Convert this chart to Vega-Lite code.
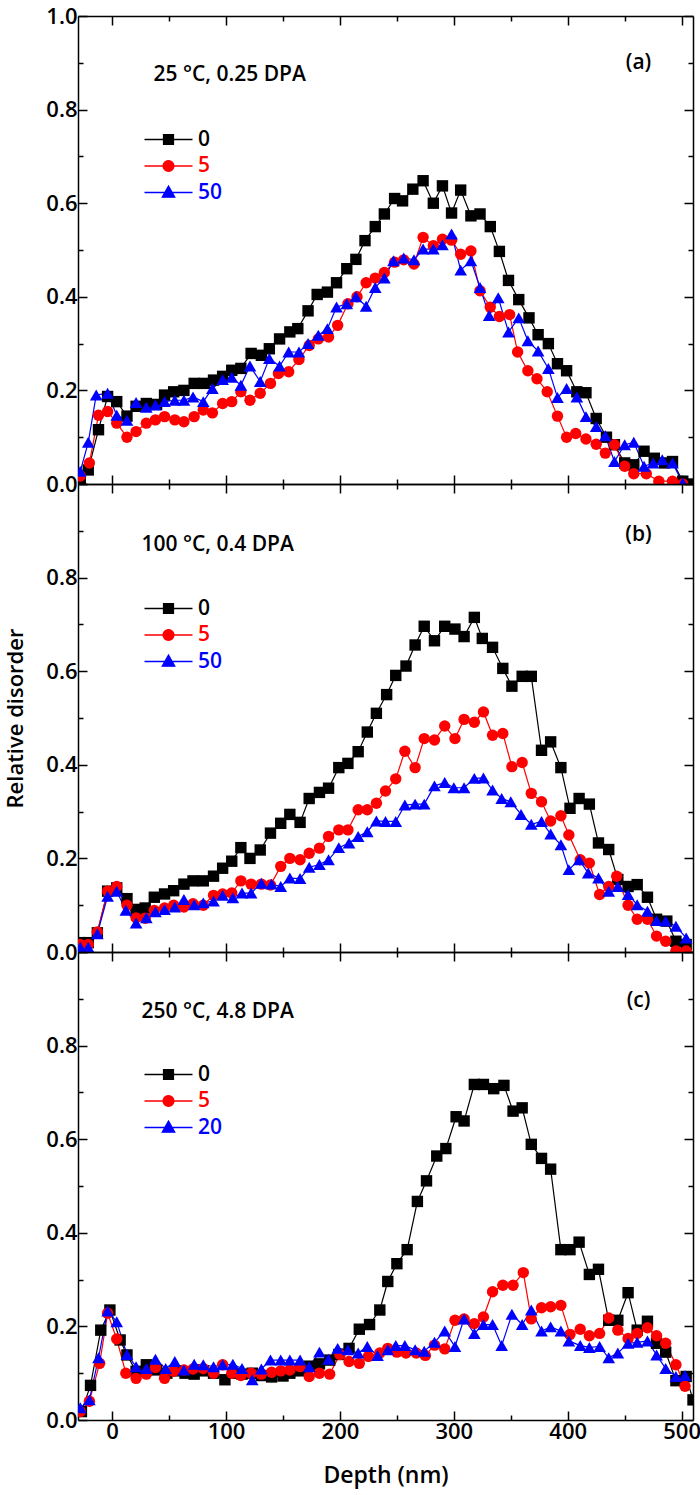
{
"$schema": "https://vega.github.io/schema/vega-lite/v6.json",
"padding": {"left": 4, "top": 5, "right": 5, "bottom": 5},
"background": "white",
"datasets": {
"a": [
{"depth":-28,"disorder":0.01,"fluence":"0"},{"depth":-21,"disorder":0.03,"fluence":"0"},{"depth":-12,"disorder":0.116,"fluence":"0"},{"depth":-4,"disorder":0.187,"fluence":"0"},{"depth":4,"disorder":0.176,"fluence":"0"},{"depth":13,"disorder":0.145,"fluence":"0"},{"depth":21,"disorder":0.166,"fluence":"0"},{"depth":30,"disorder":0.172,"fluence":"0"},{"depth":39,"disorder":0.17,"fluence":"0"},{"depth":46,"disorder":0.19,"fluence":"0"},{"depth":54,"disorder":0.197,"fluence":"0"},{"depth":63,"disorder":0.2,"fluence":"0"},{"depth":72,"disorder":0.215,"fluence":"0"},{"depth":81,"disorder":0.215,"fluence":"0"},{"depth":89,"disorder":0.222,"fluence":"0"},{"depth":97,"disorder":0.23,"fluence":"0"},{"depth":105,"disorder":0.243,"fluence":"0"},{"depth":113,"disorder":0.247,"fluence":"0"},{"depth":122,"disorder":0.279,"fluence":"0"},{"depth":131,"disorder":0.275,"fluence":"0"},{"depth":138,"disorder":0.289,"fluence":"0"},{"depth":147,"disorder":0.31,"fluence":"0"},{"depth":156,"disorder":0.325,"fluence":"0"},{"depth":163,"disorder":0.332,"fluence":"0"},{"depth":172,"disorder":0.37,"fluence":"0"},{"depth":180,"disorder":0.405,"fluence":"0"},{"depth":189,"disorder":0.41,"fluence":"0"},{"depth":197,"disorder":0.43,"fluence":"0"},{"depth":206,"disorder":0.46,"fluence":"0"},{"depth":214,"disorder":0.48,"fluence":"0"},{"depth":222,"disorder":0.52,"fluence":"0"},{"depth":231,"disorder":0.55,"fluence":"0"},{"depth":239,"disorder":0.577,"fluence":"0"},{"depth":248,"disorder":0.61,"fluence":"0"},{"depth":255,"disorder":0.605,"fluence":"0"},{"depth":264,"disorder":0.63,"fluence":"0"},{"depth":273,"disorder":0.648,"fluence":"0"},{"depth":282,"disorder":0.6,"fluence":"0"},{"depth":290,"disorder":0.637,"fluence":"0"},{"depth":298,"disorder":0.579,"fluence":"0"},{"depth":306,"disorder":0.628,"fluence":"0"},{"depth":315,"disorder":0.573,"fluence":"0"},{"depth":323,"disorder":0.577,"fluence":"0"},{"depth":332,"disorder":0.55,"fluence":"0"},{"depth":340,"disorder":0.497,"fluence":"0"},{"depth":348,"disorder":0.435,"fluence":"0"},{"depth":357,"disorder":0.394,"fluence":"0"},{"depth":366,"disorder":0.355,"fluence":"0"},{"depth":374,"disorder":0.319,"fluence":"0"},{"depth":383,"disorder":0.3,"fluence":"0"},{"depth":391,"disorder":0.257,"fluence":"0"},{"depth":399,"disorder":0.242,"fluence":"0"},{"depth":408,"disorder":0.197,"fluence":"0"},{"depth":416,"disorder":0.195,"fluence":"0"},{"depth":425,"disorder":0.14,"fluence":"0"},{"depth":434,"disorder":0.1,"fluence":"0"},{"depth":441,"disorder":0.084,"fluence":"0"},{"depth":450,"disorder":0.045,"fluence":"0"},{"depth":458,"disorder":0.041,"fluence":"0"},{"depth":467,"disorder":0.07,"fluence":"0"},{"depth":476,"disorder":0.055,"fluence":"0"},{"depth":485,"disorder":0.045,"fluence":"0"},{"depth":492,"disorder":0.048,"fluence":"0"},{"depth":501,"disorder":0.006,"fluence":"0"},{"depth":509,"disorder":0.0,"fluence":"0"},
{"depth":-28,"disorder":0.017,"fluence":"5"},{"depth":-20,"disorder":0.045,"fluence":"5"},{"depth":-12,"disorder":0.147,"fluence":"5"},{"depth":-4,"disorder":0.155,"fluence":"5"},{"depth":4,"disorder":0.13,"fluence":"5"},{"depth":13,"disorder":0.1,"fluence":"5"},{"depth":21,"disorder":0.112,"fluence":"5"},{"depth":30,"disorder":0.13,"fluence":"5"},{"depth":38,"disorder":0.137,"fluence":"5"},{"depth":46,"disorder":0.144,"fluence":"5"},{"depth":55,"disorder":0.137,"fluence":"5"},{"depth":63,"disorder":0.133,"fluence":"5"},{"depth":72,"disorder":0.144,"fluence":"5"},{"depth":80,"disorder":0.158,"fluence":"5"},{"depth":88,"disorder":0.152,"fluence":"5"},{"depth":97,"disorder":0.172,"fluence":"5"},{"depth":105,"disorder":0.176,"fluence":"5"},{"depth":113,"disorder":0.197,"fluence":"5"},{"depth":121,"disorder":0.179,"fluence":"5"},{"depth":130,"disorder":0.194,"fluence":"5"},{"depth":139,"disorder":0.215,"fluence":"5"},{"depth":146,"disorder":0.236,"fluence":"5"},{"depth":155,"disorder":0.24,"fluence":"5"},{"depth":164,"disorder":0.266,"fluence":"5"},{"depth":173,"disorder":0.296,"fluence":"5"},{"depth":181,"disorder":0.31,"fluence":"5"},{"depth":190,"disorder":0.314,"fluence":"5"},{"depth":198,"disorder":0.339,"fluence":"5"},{"depth":207,"disorder":0.385,"fluence":"5"},{"depth":215,"disorder":0.4,"fluence":"5"},{"depth":223,"disorder":0.43,"fluence":"5"},{"depth":231,"disorder":0.44,"fluence":"5"},{"depth":239,"disorder":0.452,"fluence":"5"},{"depth":248,"disorder":0.474,"fluence":"5"},{"depth":256,"disorder":0.479,"fluence":"5"},{"depth":265,"disorder":0.47,"fluence":"5"},{"depth":273,"disorder":0.527,"fluence":"5"},{"depth":282,"disorder":0.509,"fluence":"5"},{"depth":290,"disorder":0.523,"fluence":"5"},{"depth":298,"disorder":0.521,"fluence":"5"},{"depth":306,"disorder":0.491,"fluence":"5"},{"depth":315,"disorder":0.498,"fluence":"5"},{"depth":323,"disorder":0.413,"fluence":"5"},{"depth":332,"disorder":0.378,"fluence":"5"},{"depth":340,"disorder":0.358,"fluence":"5"},{"depth":349,"disorder":0.362,"fluence":"5"},{"depth":356,"disorder":0.282,"fluence":"5"},{"depth":365,"disorder":0.242,"fluence":"5"},{"depth":373,"disorder":0.225,"fluence":"5"},{"depth":382,"disorder":0.197,"fluence":"5"},{"depth":391,"disorder":0.145,"fluence":"5"},{"depth":399,"disorder":0.1,"fluence":"5"},{"depth":407,"disorder":0.108,"fluence":"5"},{"depth":416,"disorder":0.096,"fluence":"5"},{"depth":425,"disorder":0.085,"fluence":"5"},{"depth":433,"disorder":0.066,"fluence":"5"},{"depth":441,"disorder":0.084,"fluence":"5"},{"depth":450,"disorder":0.038,"fluence":"5"},{"depth":458,"disorder":0.022,"fluence":"5"},{"depth":469,"disorder":0.022,"fluence":"5"},{"depth":480,"disorder":0.006,"fluence":"5"},{"depth":492,"disorder":0.006,"fluence":"5"},{"depth":501,"disorder":0.0,"fluence":"5"},
{"depth":-28,"disorder":0.027,"fluence":"50"},{"depth":-21,"disorder":0.089,"fluence":"50"},{"depth":-14,"disorder":0.19,"fluence":"50"},{"depth":-4,"disorder":0.194,"fluence":"50"},{"depth":4,"disorder":0.147,"fluence":"50"},{"depth":13,"disorder":0.136,"fluence":"50"},{"depth":21,"disorder":0.174,"fluence":"50"},{"depth":30,"disorder":0.164,"fluence":"50"},{"depth":38,"disorder":0.169,"fluence":"50"},{"depth":46,"disorder":0.176,"fluence":"50"},{"depth":55,"disorder":0.179,"fluence":"50"},{"depth":63,"disorder":0.179,"fluence":"50"},{"depth":71,"disorder":0.186,"fluence":"50"},{"depth":80,"disorder":0.176,"fluence":"50"},{"depth":88,"disorder":0.204,"fluence":"50"},{"depth":97,"disorder":0.223,"fluence":"50"},{"depth":105,"disorder":0.228,"fluence":"50"},{"depth":113,"disorder":0.211,"fluence":"50"},{"depth":121,"disorder":0.252,"fluence":"50"},{"depth":130,"disorder":0.219,"fluence":"50"},{"depth":138,"disorder":0.268,"fluence":"50"},{"depth":147,"disorder":0.252,"fluence":"50"},{"depth":155,"disorder":0.282,"fluence":"50"},{"depth":164,"disorder":0.282,"fluence":"50"},{"depth":172,"disorder":0.3,"fluence":"50"},{"depth":181,"disorder":0.318,"fluence":"50"},{"depth":189,"disorder":0.332,"fluence":"50"},{"depth":197,"disorder":0.378,"fluence":"50"},{"depth":206,"disorder":0.385,"fluence":"50"},{"depth":214,"disorder":0.4,"fluence":"50"},{"depth":223,"disorder":0.38,"fluence":"50"},{"depth":231,"disorder":0.42,"fluence":"50"},{"depth":239,"disorder":0.44,"fluence":"50"},{"depth":247,"disorder":0.477,"fluence":"50"},{"depth":256,"disorder":0.483,"fluence":"50"},{"depth":265,"disorder":0.479,"fluence":"50"},{"depth":273,"disorder":0.502,"fluence":"50"},{"depth":282,"disorder":0.502,"fluence":"50"},{"depth":290,"disorder":0.511,"fluence":"50"},{"depth":298,"disorder":0.534,"fluence":"50"},{"depth":306,"disorder":0.457,"fluence":"50"},{"depth":315,"disorder":0.477,"fluence":"50"},{"depth":323,"disorder":0.42,"fluence":"50"},{"depth":331,"disorder":0.36,"fluence":"50"},{"depth":339,"disorder":0.398,"fluence":"50"},{"depth":348,"disorder":0.325,"fluence":"50"},{"depth":357,"disorder":0.355,"fluence":"50"},{"depth":365,"disorder":0.306,"fluence":"50"},{"depth":374,"disorder":0.284,"fluence":"50"},{"depth":383,"disorder":0.247,"fluence":"50"},{"depth":391,"disorder":0.185,"fluence":"50"},{"depth":399,"disorder":0.204,"fluence":"50"},{"depth":408,"disorder":0.186,"fluence":"50"},{"depth":416,"disorder":0.144,"fluence":"50"},{"depth":425,"disorder":0.123,"fluence":"50"},{"depth":433,"disorder":0.103,"fluence":"50"},{"depth":441,"disorder":0.048,"fluence":"50"},{"depth":450,"disorder":0.084,"fluence":"50"},{"depth":458,"disorder":0.089,"fluence":"50"},{"depth":467,"disorder":0.038,"fluence":"50"},{"depth":475,"disorder":0.045,"fluence":"50"},{"depth":483,"disorder":0.052,"fluence":"50"},{"depth":492,"disorder":0.045,"fluence":"50"},{"depth":501,"disorder":0.002,"fluence":"50"}
],
"b": [
{"depth":-28,"disorder":0.02,"fluence":"0"},{"depth":-21,"disorder":0.02,"fluence":"0"},{"depth":-13,"disorder":0.041,"fluence":"0"},{"depth":-4,"disorder":0.13,"fluence":"0"},{"depth":4,"disorder":0.137,"fluence":"0"},{"depth":13,"disorder":0.114,"fluence":"0"},{"depth":21,"disorder":0.091,"fluence":"0"},{"depth":29,"disorder":0.094,"fluence":"0"},{"depth":37,"disorder":0.117,"fluence":"0"},{"depth":46,"disorder":0.124,"fluence":"0"},{"depth":54,"disorder":0.131,"fluence":"0"},{"depth":63,"disorder":0.145,"fluence":"0"},{"depth":71,"disorder":0.152,"fluence":"0"},{"depth":80,"disorder":0.152,"fluence":"0"},{"depth":89,"disorder":0.162,"fluence":"0"},{"depth":97,"disorder":0.179,"fluence":"0"},{"depth":105,"disorder":0.194,"fluence":"0"},{"depth":113,"disorder":0.223,"fluence":"0"},{"depth":121,"disorder":0.2,"fluence":"0"},{"depth":130,"disorder":0.218,"fluence":"0"},{"depth":139,"disorder":0.254,"fluence":"0"},{"depth":148,"disorder":0.275,"fluence":"0"},{"depth":156,"disorder":0.294,"fluence":"0"},{"depth":165,"disorder":0.277,"fluence":"0"},{"depth":173,"disorder":0.328,"fluence":"0"},{"depth":182,"disorder":0.341,"fluence":"0"},{"depth":190,"disorder":0.35,"fluence":"0"},{"depth":199,"disorder":0.394,"fluence":"0"},{"depth":207,"disorder":0.403,"fluence":"0"},{"depth":216,"disorder":0.428,"fluence":"0"},{"depth":224,"disorder":0.47,"fluence":"0"},{"depth":232,"disorder":0.51,"fluence":"0"},{"depth":241,"disorder":0.55,"fluence":"0"},{"depth":249,"disorder":0.591,"fluence":"0"},{"depth":258,"disorder":0.611,"fluence":"0"},{"depth":266,"disorder":0.656,"fluence":"0"},{"depth":274,"disorder":0.696,"fluence":"0"},{"depth":283,"disorder":0.665,"fluence":"0"},{"depth":292,"disorder":0.696,"fluence":"0"},{"depth":301,"disorder":0.69,"fluence":"0"},{"depth":309,"disorder":0.674,"fluence":"0"},{"depth":318,"disorder":0.715,"fluence":"0"},{"depth":325,"disorder":0.67,"fluence":"0"},{"depth":334,"disorder":0.651,"fluence":"0"},{"depth":343,"disorder":0.606,"fluence":"0"},{"depth":351,"disorder":0.568,"fluence":"0"},{"depth":360,"disorder":0.589,"fluence":"0"},{"depth":368,"disorder":0.589,"fluence":"0"},{"depth":377,"disorder":0.431,"fluence":"0"},{"depth":385,"disorder":0.449,"fluence":"0"},{"depth":394,"disorder":0.394,"fluence":"0"},{"depth":402,"disorder":0.307,"fluence":"0"},{"depth":410,"disorder":0.328,"fluence":"0"},{"depth":419,"disorder":0.316,"fluence":"0"},{"depth":427,"disorder":0.233,"fluence":"0"},{"depth":436,"disorder":0.219,"fluence":"0"},{"depth":444,"disorder":0.155,"fluence":"0"},{"depth":453,"disorder":0.14,"fluence":"0"},{"depth":461,"disorder":0.144,"fluence":"0"},{"depth":470,"disorder":0.117,"fluence":"0"},{"depth":478,"disorder":0.07,"fluence":"0"},{"depth":487,"disorder":0.066,"fluence":"0"},{"depth":495,"disorder":0.023,"fluence":"0"},{"depth":504,"disorder":0.016,"fluence":"0"},
{"depth":-28,"disorder":0.016,"fluence":"5"},{"depth":-21,"disorder":0.016,"fluence":"5"},{"depth":-13,"disorder":0.043,"fluence":"5"},{"depth":-4,"disorder":0.13,"fluence":"5"},{"depth":4,"disorder":0.14,"fluence":"5"},{"depth":13,"disorder":0.1,"fluence":"5"},{"depth":21,"disorder":0.073,"fluence":"5"},{"depth":29,"disorder":0.072,"fluence":"5"},{"depth":37,"disorder":0.089,"fluence":"5"},{"depth":46,"disorder":0.094,"fluence":"5"},{"depth":54,"disorder":0.1,"fluence":"5"},{"depth":63,"disorder":0.096,"fluence":"5"},{"depth":71,"disorder":0.103,"fluence":"5"},{"depth":80,"disorder":0.1,"fluence":"5"},{"depth":89,"disorder":0.121,"fluence":"5"},{"depth":97,"disorder":0.124,"fluence":"5"},{"depth":105,"disorder":0.126,"fluence":"5"},{"depth":113,"disorder":0.152,"fluence":"5"},{"depth":122,"disorder":0.145,"fluence":"5"},{"depth":131,"disorder":0.145,"fluence":"5"},{"depth":139,"disorder":0.143,"fluence":"5"},{"depth":148,"disorder":0.183,"fluence":"5"},{"depth":156,"disorder":0.2,"fluence":"5"},{"depth":165,"disorder":0.197,"fluence":"5"},{"depth":173,"disorder":0.211,"fluence":"5"},{"depth":182,"disorder":0.222,"fluence":"5"},{"depth":190,"disorder":0.247,"fluence":"5"},{"depth":199,"disorder":0.261,"fluence":"5"},{"depth":207,"disorder":0.261,"fluence":"5"},{"depth":216,"disorder":0.304,"fluence":"5"},{"depth":224,"disorder":0.304,"fluence":"5"},{"depth":232,"disorder":0.318,"fluence":"5"},{"depth":240,"disorder":0.344,"fluence":"5"},{"depth":249,"disorder":0.37,"fluence":"5"},{"depth":257,"disorder":0.429,"fluence":"5"},{"depth":266,"disorder":0.394,"fluence":"5"},{"depth":274,"disorder":0.456,"fluence":"5"},{"depth":283,"disorder":0.453,"fluence":"5"},{"depth":292,"disorder":0.483,"fluence":"5"},{"depth":301,"disorder":0.456,"fluence":"5"},{"depth":309,"disorder":0.497,"fluence":"5"},{"depth":318,"disorder":0.491,"fluence":"5"},{"depth":326,"disorder":0.513,"fluence":"5"},{"depth":334,"disorder":0.463,"fluence":"5"},{"depth":343,"disorder":0.467,"fluence":"5"},{"depth":351,"disorder":0.396,"fluence":"5"},{"depth":360,"disorder":0.405,"fluence":"5"},{"depth":368,"disorder":0.339,"fluence":"5"},{"depth":377,"disorder":0.321,"fluence":"5"},{"depth":385,"disorder":0.28,"fluence":"5"},{"depth":394,"disorder":0.291,"fluence":"5"},{"depth":401,"disorder":0.25,"fluence":"5"},{"depth":411,"disorder":0.197,"fluence":"5"},{"depth":419,"disorder":0.19,"fluence":"5"},{"depth":428,"disorder":0.123,"fluence":"5"},{"depth":436,"disorder":0.14,"fluence":"5"},{"depth":443,"disorder":0.162,"fluence":"5"},{"depth":453,"disorder":0.1,"fluence":"5"},{"depth":461,"disorder":0.07,"fluence":"5"},{"depth":470,"disorder":0.07,"fluence":"5"},{"depth":478,"disorder":0.034,"fluence":"5"},{"depth":486,"disorder":0.023,"fluence":"5"},{"depth":495,"disorder":0.002,"fluence":"5"},{"depth":504,"disorder":0.002,"fluence":"5"},
{"depth":-28,"disorder":0.01,"fluence":"50"},{"depth":-21,"disorder":0.01,"fluence":"50"},{"depth":-13,"disorder":0.039,"fluence":"50"},{"depth":-4,"disorder":0.119,"fluence":"50"},{"depth":4,"disorder":0.13,"fluence":"50"},{"depth":12,"disorder":0.089,"fluence":"50"},{"depth":21,"disorder":0.062,"fluence":"50"},{"depth":30,"disorder":0.073,"fluence":"50"},{"depth":38,"disorder":0.086,"fluence":"50"},{"depth":46,"disorder":0.091,"fluence":"50"},{"depth":55,"disorder":0.096,"fluence":"50"},{"depth":63,"disorder":0.112,"fluence":"50"},{"depth":72,"disorder":0.101,"fluence":"50"},{"depth":80,"disorder":0.105,"fluence":"50"},{"depth":89,"disorder":0.109,"fluence":"50"},{"depth":97,"disorder":0.121,"fluence":"50"},{"depth":106,"disorder":0.116,"fluence":"50"},{"depth":114,"disorder":0.126,"fluence":"50"},{"depth":122,"disorder":0.126,"fluence":"50"},{"depth":131,"disorder":0.147,"fluence":"50"},{"depth":140,"disorder":0.145,"fluence":"50"},{"depth":148,"disorder":0.14,"fluence":"50"},{"depth":156,"disorder":0.158,"fluence":"50"},{"depth":165,"disorder":0.157,"fluence":"50"},{"depth":173,"disorder":0.181,"fluence":"50"},{"depth":182,"disorder":0.187,"fluence":"50"},{"depth":190,"disorder":0.197,"fluence":"50"},{"depth":199,"disorder":0.223,"fluence":"50"},{"depth":208,"disorder":0.233,"fluence":"50"},{"depth":216,"disorder":0.247,"fluence":"50"},{"depth":224,"disorder":0.257,"fluence":"50"},{"depth":232,"disorder":0.28,"fluence":"50"},{"depth":240,"disorder":0.279,"fluence":"50"},{"depth":249,"disorder":0.279,"fluence":"50"},{"depth":257,"disorder":0.314,"fluence":"50"},{"depth":266,"disorder":0.316,"fluence":"50"},{"depth":274,"disorder":0.316,"fluence":"50"},{"depth":283,"disorder":0.355,"fluence":"50"},{"depth":292,"disorder":0.362,"fluence":"50"},{"depth":300,"disorder":0.351,"fluence":"50"},{"depth":309,"disorder":0.351,"fluence":"50"},{"depth":318,"disorder":0.371,"fluence":"50"},{"depth":326,"disorder":0.372,"fluence":"50"},{"depth":334,"disorder":0.346,"fluence":"50"},{"depth":342,"disorder":0.328,"fluence":"50"},{"depth":350,"disorder":0.321,"fluence":"50"},{"depth":359,"disorder":0.294,"fluence":"50"},{"depth":368,"disorder":0.273,"fluence":"50"},{"depth":377,"disorder":0.279,"fluence":"50"},{"depth":385,"disorder":0.252,"fluence":"50"},{"depth":394,"disorder":0.229,"fluence":"50"},{"depth":401,"disorder":0.176,"fluence":"50"},{"depth":410,"disorder":0.197,"fluence":"50"},{"depth":418,"disorder":0.169,"fluence":"50"},{"depth":427,"disorder":0.158,"fluence":"50"},{"depth":436,"disorder":0.13,"fluence":"50"},{"depth":444,"disorder":0.14,"fluence":"50"},{"depth":453,"disorder":0.123,"fluence":"50"},{"depth":461,"disorder":0.101,"fluence":"50"},{"depth":470,"disorder":0.087,"fluence":"50"},{"depth":478,"disorder":0.067,"fluence":"50"},{"depth":486,"disorder":0.066,"fluence":"50"},{"depth":495,"disorder":0.055,"fluence":"50"},{"depth":504,"disorder":0.03,"fluence":"50"}
],
"c": [
{"depth":-27,"disorder":0.018,"fluence":"0"},{"depth":-19,"disorder":0.074,"fluence":"0"},{"depth":-10,"disorder":0.192,"fluence":"0"},{"depth":-2,"disorder":0.235,"fluence":"0"},{"depth":7,"disorder":0.171,"fluence":"0"},{"depth":13,"disorder":0.139,"fluence":"0"},{"depth":21,"disorder":0.104,"fluence":"0"},{"depth":30,"disorder":0.118,"fluence":"0"},{"depth":39,"disorder":0.107,"fluence":"0"},{"depth":48,"disorder":0.1,"fluence":"0"},{"depth":56,"disorder":0.105,"fluence":"0"},{"depth":64,"disorder":0.1,"fluence":"0"},{"depth":72,"disorder":0.098,"fluence":"0"},{"depth":80,"disorder":0.105,"fluence":"0"},{"depth":89,"disorder":0.1,"fluence":"0"},{"depth":99,"disorder":0.086,"fluence":"0"},{"depth":106,"disorder":0.1,"fluence":"0"},{"depth":114,"disorder":0.098,"fluence":"0"},{"depth":123,"disorder":0.1,"fluence":"0"},{"depth":131,"disorder":0.095,"fluence":"0"},{"depth":140,"disorder":0.092,"fluence":"0"},{"depth":150,"disorder":0.094,"fluence":"0"},{"depth":156,"disorder":0.1,"fluence":"0"},{"depth":165,"disorder":0.105,"fluence":"0"},{"depth":173,"disorder":0.115,"fluence":"0"},{"depth":182,"disorder":0.12,"fluence":"0"},{"depth":191,"disorder":0.128,"fluence":"0"},{"depth":199,"disorder":0.14,"fluence":"0"},{"depth":208,"disorder":0.153,"fluence":"0"},{"depth":217,"disorder":0.194,"fluence":"0"},{"depth":226,"disorder":0.204,"fluence":"0"},{"depth":235,"disorder":0.235,"fluence":"0"},{"depth":242,"disorder":0.296,"fluence":"0"},{"depth":250,"disorder":0.334,"fluence":"0"},{"depth":259,"disorder":0.364,"fluence":"0"},{"depth":268,"disorder":0.467,"fluence":"0"},{"depth":276,"disorder":0.511,"fluence":"0"},{"depth":285,"disorder":0.564,"fluence":"0"},{"depth":293,"disorder":0.58,"fluence":"0"},{"depth":302,"disorder":0.648,"fluence":"0"},{"depth":309,"disorder":0.639,"fluence":"0"},{"depth":318,"disorder":0.717,"fluence":"0"},{"depth":326,"disorder":0.717,"fluence":"0"},{"depth":335,"disorder":0.708,"fluence":"0"},{"depth":344,"disorder":0.715,"fluence":"0"},{"depth":352,"disorder":0.66,"fluence":"0"},{"depth":360,"disorder":0.667,"fluence":"0"},{"depth":368,"disorder":0.589,"fluence":"0"},{"depth":377,"disorder":0.559,"fluence":"0"},{"depth":385,"disorder":0.536,"fluence":"0"},{"depth":394,"disorder":0.364,"fluence":"0"},{"depth":402,"disorder":0.364,"fluence":"0"},{"depth":410,"disorder":0.38,"fluence":"0"},{"depth":419,"disorder":0.311,"fluence":"0"},{"depth":427,"disorder":0.322,"fluence":"0"},{"depth":436,"disorder":0.213,"fluence":"0"},{"depth":444,"disorder":0.213,"fluence":"0"},{"depth":453,"disorder":0.272,"fluence":"0"},{"depth":461,"disorder":0.192,"fluence":"0"},{"depth":470,"disorder":0.211,"fluence":"0"},{"depth":478,"disorder":0.164,"fluence":"0"},{"depth":486,"disorder":0.145,"fluence":"0"},{"depth":495,"disorder":0.084,"fluence":"0"},{"depth":504,"disorder":0.093,"fluence":"0"},{"depth":510,"disorder":0.043,"fluence":"0"},
{"depth":-28,"disorder":0.018,"fluence":"5"},{"depth":-20,"disorder":0.04,"fluence":"5"},{"depth":-11,"disorder":0.121,"fluence":"5"},{"depth":-4,"disorder":0.228,"fluence":"5"},{"depth":4,"disorder":0.173,"fluence":"5"},{"depth":12,"disorder":0.1,"fluence":"5"},{"depth":21,"disorder":0.089,"fluence":"5"},{"depth":30,"disorder":0.098,"fluence":"5"},{"depth":38,"disorder":0.112,"fluence":"5"},{"depth":46,"disorder":0.089,"fluence":"5"},{"depth":54,"disorder":0.104,"fluence":"5"},{"depth":63,"disorder":0.107,"fluence":"5"},{"depth":71,"disorder":0.109,"fluence":"5"},{"depth":80,"disorder":0.11,"fluence":"5"},{"depth":89,"disorder":0.1,"fluence":"5"},{"depth":97,"disorder":0.118,"fluence":"5"},{"depth":105,"disorder":0.1,"fluence":"5"},{"depth":113,"disorder":0.095,"fluence":"5"},{"depth":122,"disorder":0.1,"fluence":"5"},{"depth":131,"disorder":0.098,"fluence":"5"},{"depth":140,"disorder":0.102,"fluence":"5"},{"depth":148,"disorder":0.105,"fluence":"5"},{"depth":156,"disorder":0.107,"fluence":"5"},{"depth":165,"disorder":0.114,"fluence":"5"},{"depth":173,"disorder":0.093,"fluence":"5"},{"depth":182,"disorder":0.1,"fluence":"5"},{"depth":191,"disorder":0.098,"fluence":"5"},{"depth":200,"disorder":0.14,"fluence":"5"},{"depth":208,"disorder":0.125,"fluence":"5"},{"depth":217,"disorder":0.121,"fluence":"5"},{"depth":225,"disorder":0.136,"fluence":"5"},{"depth":235,"disorder":0.143,"fluence":"5"},{"depth":242,"disorder":0.153,"fluence":"5"},{"depth":250,"disorder":0.145,"fluence":"5"},{"depth":258,"disorder":0.143,"fluence":"5"},{"depth":267,"disorder":0.143,"fluence":"5"},{"depth":275,"disorder":0.138,"fluence":"5"},{"depth":283,"disorder":0.16,"fluence":"5"},{"depth":292,"disorder":0.152,"fluence":"5"},{"depth":301,"disorder":0.213,"fluence":"5"},{"depth":309,"disorder":0.216,"fluence":"5"},{"depth":318,"disorder":0.206,"fluence":"5"},{"depth":326,"disorder":0.22,"fluence":"5"},{"depth":334,"disorder":0.274,"fluence":"5"},{"depth":343,"disorder":0.288,"fluence":"5"},{"depth":352,"disorder":0.288,"fluence":"5"},{"depth":361,"disorder":0.315,"fluence":"5"},{"depth":368,"disorder":0.216,"fluence":"5"},{"depth":377,"disorder":0.24,"fluence":"5"},{"depth":385,"disorder":0.242,"fluence":"5"},{"depth":394,"disorder":0.245,"fluence":"5"},{"depth":402,"disorder":0.183,"fluence":"5"},{"depth":411,"disorder":0.194,"fluence":"5"},{"depth":419,"disorder":0.18,"fluence":"5"},{"depth":428,"disorder":0.185,"fluence":"5"},{"depth":436,"disorder":0.218,"fluence":"5"},{"depth":444,"disorder":0.192,"fluence":"5"},{"depth":453,"disorder":0.174,"fluence":"5"},{"depth":461,"disorder":0.185,"fluence":"5"},{"depth":470,"disorder":0.197,"fluence":"5"},{"depth":478,"disorder":0.18,"fluence":"5"},{"depth":486,"disorder":0.164,"fluence":"5"},{"depth":495,"disorder":0.118,"fluence":"5"},{"depth":503,"disorder":0.072,"fluence":"5"},
{"depth":-28,"disorder":0.026,"fluence":"20"},{"depth":-20,"disorder":0.043,"fluence":"20"},{"depth":-12,"disorder":0.133,"fluence":"20"},{"depth":-4,"disorder":0.233,"fluence":"20"},{"depth":4,"disorder":0.21,"fluence":"20"},{"depth":13,"disorder":0.14,"fluence":"20"},{"depth":21,"disorder":0.114,"fluence":"20"},{"depth":30,"disorder":0.11,"fluence":"20"},{"depth":38,"disorder":0.13,"fluence":"20"},{"depth":47,"disorder":0.11,"fluence":"20"},{"depth":55,"disorder":0.125,"fluence":"20"},{"depth":63,"disorder":0.107,"fluence":"20"},{"depth":72,"disorder":0.119,"fluence":"20"},{"depth":80,"disorder":0.118,"fluence":"20"},{"depth":89,"disorder":0.114,"fluence":"20"},{"depth":97,"disorder":0.118,"fluence":"20"},{"depth":106,"disorder":0.119,"fluence":"20"},{"depth":114,"disorder":0.11,"fluence":"20"},{"depth":123,"disorder":0.086,"fluence":"20"},{"depth":131,"disorder":0.109,"fluence":"20"},{"depth":139,"disorder":0.128,"fluence":"20"},{"depth":148,"disorder":0.128,"fluence":"20"},{"depth":156,"disorder":0.128,"fluence":"20"},{"depth":165,"disorder":0.128,"fluence":"20"},{"depth":173,"disorder":0.114,"fluence":"20"},{"depth":182,"disorder":0.145,"fluence":"20"},{"depth":190,"disorder":0.13,"fluence":"20"},{"depth":198,"disorder":0.153,"fluence":"20"},{"depth":207,"disorder":0.15,"fluence":"20"},{"depth":216,"disorder":0.143,"fluence":"20"},{"depth":224,"disorder":0.157,"fluence":"20"},{"depth":233,"disorder":0.138,"fluence":"20"},{"depth":242,"disorder":0.15,"fluence":"20"},{"depth":249,"disorder":0.159,"fluence":"20"},{"depth":257,"disorder":0.159,"fluence":"20"},{"depth":266,"disorder":0.15,"fluence":"20"},{"depth":274,"disorder":0.147,"fluence":"20"},{"depth":283,"disorder":0.166,"fluence":"20"},{"depth":292,"disorder":0.19,"fluence":"20"},{"depth":301,"disorder":0.157,"fluence":"20"},{"depth":309,"disorder":0.216,"fluence":"20"},{"depth":318,"disorder":0.185,"fluence":"20"},{"depth":326,"disorder":0.204,"fluence":"20"},{"depth":334,"disorder":0.204,"fluence":"20"},{"depth":342,"disorder":0.159,"fluence":"20"},{"depth":351,"disorder":0.226,"fluence":"20"},{"depth":360,"disorder":0.204,"fluence":"20"},{"depth":368,"disorder":0.235,"fluence":"20"},{"depth":377,"disorder":0.19,"fluence":"20"},{"depth":385,"disorder":0.199,"fluence":"20"},{"depth":394,"disorder":0.19,"fluence":"20"},{"depth":401,"disorder":0.169,"fluence":"20"},{"depth":411,"disorder":0.159,"fluence":"20"},{"depth":419,"disorder":0.155,"fluence":"20"},{"depth":428,"disorder":0.157,"fluence":"20"},{"depth":436,"disorder":0.133,"fluence":"20"},{"depth":444,"disorder":0.143,"fluence":"20"},{"depth":453,"disorder":0.164,"fluence":"20"},{"depth":461,"disorder":0.166,"fluence":"20"},{"depth":470,"disorder":0.169,"fluence":"20"},{"depth":478,"disorder":0.139,"fluence":"20"},{"depth":486,"disorder":0.11,"fluence":"20"},{"depth":495,"disorder":0.093,"fluence":"20"},{"depth":503,"disorder":0.095,"fluence":"20"}
]
},
"vconcat": [
{
"width": 615, "height": 468,
"data": {"name": "a"},
"layer": [
{"mark": {"type": "line", "strokeWidth": 1.2, "clip": true},
 "encoding": {
  "x": {"field": "depth", "type": "quantitative", "scale": {"domain": [-30, 510], "nice": false, "zero": false},
        "axis": {"orient": "bottom", "values": [0,50,100,150,200,250,300,350,400,450,500], "labels": false, "title": null,
                 "tickSize": {"condition": {"test": "datum.value % 100 === 0", "value": -9}, "value": -5}}},
  "y": {"field": "disorder", "type": "quantitative", "scale": {"domain": [0, 1], "nice": false, "zero": false},
        "axis": {"orient": "left", "values": [0,0.1,0.2,0.3,0.4,0.5,0.6,0.7,0.8,0.9,1.0], "title": null,
                 "labelExpr": "round(datum.value*10) % 2 === 0 ? format(datum.value, '.1f') : ''",
                 "tickSize": {"condition": {"test": "round(datum.value*10) % 2 === 0", "value": -9}, "value": -5}}},
  "color": {"field": "fluence", "type": "nominal", "scale": {"domain": ["0","5","50"], "range": ["#000000","#ff0000","#0000ff"]},
        "legend": {"orient": "none", "legendX": 80, "legendY": 113, "title": null, "symbolSize": 256, "labelOffset": 19, "rowPadding": 4.5, "padding": 0,
          "encode": {
            "symbols": {"update": {
              "shape": {"signal": "datum.value === '0' ? 'M-3,0H3M-0.62,-0.62H0.62V0.62H-0.62Z' : datum.value === '5' ? 'M-3,0H3M0.68,0A0.68,0.68,0,1,1,-0.68,0A0.68,0.68,0,1,1,0.68,0Z' : 'M-3,0H3M0,-0.8L0.78,0.58H-0.78Z'"},
              "fill": {"signal": "datum.value === '0' ? '#000000' : datum.value === '5' ? '#ff0000' : '#0000ff'"},
              "stroke": {"signal": "datum.value === '0' ? '#000000' : datum.value === '5' ? '#ff0000' : '#0000ff'"},
              "strokeWidth": {"value": 1.3}, "opacity": {"value": 1}}},
            "labels": {"update": {"fill": {"signal": "datum.value === '0' ? '#000000' : datum.value === '5' ? '#ff0000' : '#0000ff'"}}}
          }}}
 }},
{"transform": [{"filter": "datum.fluence === '0'"}],
 "mark": {"type": "point", "shape": "square", "filled": true, "color": "#000000", "opacity": 1, "size": 130, "clip": true},
 "encoding": {
  "x": {"field": "depth", "type": "quantitative",
        "axis": {"orient": "top", "values": [0,50,100,150,200,250,300,350,400,450,500], "labels": false,
                 "title": "25 °C, 0.25 DPA", "titleX": 75, "titleY": 58, "titleAlign": "left", "titleBaseline": "middle", "titleAngle": 0, "titleFontSize": 21,
                 "tickSize": {"condition": {"test": "datum.value % 100 === 0", "value": -9}, "value": -5}}},
  "y": {"field": "disorder", "type": "quantitative",
        "axis": {"orient": "right", "values": [0,0.1,0.2,0.3,0.4,0.5,0.6,0.7,0.8,0.9,1.0], "labels": false,
                 "title": "(a)", "titleX": -55, "titleY": 46, "titleAlign": "center", "titleBaseline": "middle", "titleAngle": 0, "titleFontSize": 21,
                 "tickSize": {"condition": {"test": "round(datum.value*10) % 2 === 0", "value": -9}, "value": -5}}}
 }},
{"transform": [{"filter": "datum.fluence === '5'"}],
 "mark": {"type": "point", "shape": "circle", "filled": true, "color": "#ff0000", "opacity": 1, "size": 130, "clip": true},
 "encoding": {"x": {"field": "depth", "type": "quantitative", "axis": null}, "y": {"field": "disorder", "type": "quantitative", "axis": null}}},
{"transform": [{"filter": "datum.fluence === '50'"}],
 "mark": {"type": "point", "shape": "triangle-up", "filled": true, "color": "#0000ff", "opacity": 1, "size": 160, "clip": true},
 "encoding": {"x": {"field": "depth", "type": "quantitative", "axis": null}, "y": {"field": "disorder", "type": "quantitative", "axis": null}}}
],
"resolve": {"axis": {"x": "independent", "y": "independent"}}
},
{
"width": 615, "height": 468,
"data": {"name": "b"},
"layer": [
{"mark": {"type": "line", "strokeWidth": 1.2, "clip": true},
 "encoding": {
  "x": {"field": "depth", "type": "quantitative", "scale": {"domain": [-30, 510], "nice": false, "zero": false},
        "axis": {"orient": "bottom", "values": [0,50,100,150,200,250,300,350,400,450,500], "labels": false, "title": null,
                 "tickSize": {"condition": {"test": "datum.value % 100 === 0", "value": -9}, "value": -5}}},
  "y": {"field": "disorder", "type": "quantitative", "scale": {"domain": [0, 1], "nice": false, "zero": false},
        "axis": {"orient": "left", "values": [0,0.1,0.2,0.3,0.4,0.5,0.6,0.7,0.8,0.9,1.0], "title": "Relative disorder", "titlePadding": 18, "titleFontSize": 22,
                 "labelExpr": "round(datum.value*10) % 2 === 0 && datum.value < 0.95 ? format(datum.value, '.1f') : ''",
                 "tickSize": {"condition": {"test": "round(datum.value*10) % 2 === 0", "value": -9}, "value": -5}}},
  "color": {"field": "fluence", "type": "nominal", "scale": {"domain": ["0","5","50"], "range": ["#000000","#ff0000","#0000ff"]},
        "legend": {"orient": "none", "legendX": 80, "legendY": 114, "title": null, "symbolSize": 256, "labelOffset": 19, "rowPadding": 4.5, "padding": 0,
          "encode": {
            "symbols": {"update": {
              "shape": {"signal": "datum.value === '0' ? 'M-3,0H3M-0.62,-0.62H0.62V0.62H-0.62Z' : datum.value === '5' ? 'M-3,0H3M0.68,0A0.68,0.68,0,1,1,-0.68,0A0.68,0.68,0,1,1,0.68,0Z' : 'M-3,0H3M0,-0.8L0.78,0.58H-0.78Z'"},
              "fill": {"signal": "datum.value === '0' ? '#000000' : datum.value === '5' ? '#ff0000' : '#0000ff'"},
              "stroke": {"signal": "datum.value === '0' ? '#000000' : datum.value === '5' ? '#ff0000' : '#0000ff'"},
              "strokeWidth": {"value": 1.3}, "opacity": {"value": 1}}},
            "labels": {"update": {"fill": {"signal": "datum.value === '0' ? '#000000' : datum.value === '5' ? '#ff0000' : '#0000ff'"}}}
          }}}
 }},
{"transform": [{"filter": "datum.fluence === '0'"}],
 "mark": {"type": "point", "shape": "square", "filled": true, "color": "#000000", "opacity": 1, "size": 130, "clip": true},
 "encoding": {
  "x": {"field": "depth", "type": "quantitative",
        "axis": {"orient": "top", "values": [0,50,100,150,200,250,300,350,400,450,500], "labels": false,
                 "title": "100 °C, 0.4 DPA", "titleX": 63, "titleY": 60, "titleAlign": "left", "titleBaseline": "middle", "titleAngle": 0, "titleFontSize": 21,
                 "tickSize": {"condition": {"test": "datum.value % 100 === 0", "value": -9}, "value": -5}}},
  "y": {"field": "disorder", "type": "quantitative",
        "axis": {"orient": "right", "values": [0,0.1,0.2,0.3,0.4,0.5,0.6,0.7,0.8,0.9,1.0], "labels": false,
                 "title": "(b)", "titleX": -55, "titleY": 50, "titleAlign": "center", "titleBaseline": "middle", "titleAngle": 0, "titleFontSize": 21,
                 "tickSize": {"condition": {"test": "round(datum.value*10) % 2 === 0", "value": -9}, "value": -5}}}
 }},
{"transform": [{"filter": "datum.fluence === '5'"}],
 "mark": {"type": "point", "shape": "circle", "filled": true, "color": "#ff0000", "opacity": 1, "size": 130, "clip": true},
 "encoding": {"x": {"field": "depth", "type": "quantitative", "axis": null}, "y": {"field": "disorder", "type": "quantitative", "axis": null}}},
{"transform": [{"filter": "datum.fluence === '50'"}],
 "mark": {"type": "point", "shape": "triangle-up", "filled": true, "color": "#0000ff", "opacity": 1, "size": 160, "clip": true},
 "encoding": {"x": {"field": "depth", "type": "quantitative", "axis": null}, "y": {"field": "disorder", "type": "quantitative", "axis": null}}}
],
"resolve": {"axis": {"x": "independent", "y": "independent"}}
},
{
"width": 615, "height": 468,
"data": {"name": "c"},
"layer": [
{"mark": {"type": "line", "strokeWidth": 1.2, "clip": true},
 "encoding": {
  "x": {"field": "depth", "type": "quantitative", "scale": {"domain": [-30, 510], "nice": false, "zero": false},
        "axis": {"orient": "bottom", "values": [0,50,100,150,200,250,300,350,400,450,500], "title": "Depth (nm)", "titlePadding": 22,
                 "labelExpr": "datum.value % 100 === 0 ? format(datum.value, 'd') : ''",
                 "tickSize": {"condition": {"test": "datum.value % 100 === 0", "value": -9}, "value": -5}}},
  "y": {"field": "disorder", "type": "quantitative", "scale": {"domain": [0, 1], "nice": false, "zero": false},
        "axis": {"orient": "left", "values": [0,0.1,0.2,0.3,0.4,0.5,0.6,0.7,0.8,0.9,1.0], "title": null,
                 "labelExpr": "round(datum.value*10) % 2 === 0 && datum.value < 0.95 ? format(datum.value, '.1f') : ''",
                 "tickSize": {"condition": {"test": "round(datum.value*10) % 2 === 0", "value": -9}, "value": -5}}},
  "color": {"field": "fluence", "type": "nominal", "scale": {"domain": ["0","5","20"], "range": ["#000000","#ff0000","#0000ff"]},
        "legend": {"orient": "none", "legendX": 80, "legendY": 112, "title": null, "symbolSize": 256, "labelOffset": 19, "rowPadding": 4.5, "padding": 0,
          "encode": {
            "symbols": {"update": {
              "shape": {"signal": "datum.value === '0' ? 'M-3,0H3M-0.62,-0.62H0.62V0.62H-0.62Z' : datum.value === '5' ? 'M-3,0H3M0.68,0A0.68,0.68,0,1,1,-0.68,0A0.68,0.68,0,1,1,0.68,0Z' : 'M-3,0H3M0,-0.8L0.78,0.58H-0.78Z'"},
              "fill": {"signal": "datum.value === '0' ? '#000000' : datum.value === '5' ? '#ff0000' : '#0000ff'"},
              "stroke": {"signal": "datum.value === '0' ? '#000000' : datum.value === '5' ? '#ff0000' : '#0000ff'"},
              "strokeWidth": {"value": 1.3}, "opacity": {"value": 1}}},
            "labels": {"update": {"fill": {"signal": "datum.value === '0' ? '#000000' : datum.value === '5' ? '#ff0000' : '#0000ff'"}}}
          }}}
 }},
{"transform": [{"filter": "datum.fluence === '0'"}],
 "mark": {"type": "point", "shape": "square", "filled": true, "color": "#000000", "opacity": 1, "size": 130, "clip": true},
 "encoding": {
  "x": {"field": "depth", "type": "quantitative",
        "axis": {"orient": "top", "values": [0,50,100,150,200,250,300,350,400,450,500], "labels": false,
                 "title": "250 °C, 4.8 DPA", "titleX": 63, "titleY": 59, "titleAlign": "left", "titleBaseline": "middle", "titleAngle": 0, "titleFontSize": 21,
                 "tickSize": {"condition": {"test": "datum.value % 100 === 0", "value": -9}, "value": -5}}},
  "y": {"field": "disorder", "type": "quantitative",
        "axis": {"orient": "right", "values": [0,0.1,0.2,0.3,0.4,0.5,0.6,0.7,0.8,0.9,1.0], "labels": false,
                 "title": "(c)", "titleX": -55, "titleY": 48, "titleAlign": "center", "titleBaseline": "middle", "titleAngle": 0, "titleFontSize": 21,
                 "tickSize": {"condition": {"test": "round(datum.value*10) % 2 === 0", "value": -9}, "value": -5}}}
 }},
{"transform": [{"filter": "datum.fluence === '5'"}],
 "mark": {"type": "point", "shape": "circle", "filled": true, "color": "#ff0000", "opacity": 1, "size": 130, "clip": true},
 "encoding": {"x": {"field": "depth", "type": "quantitative", "axis": null}, "y": {"field": "disorder", "type": "quantitative", "axis": null}}},
{"transform": [{"filter": "datum.fluence === '20'"}],
 "mark": {"type": "point", "shape": "triangle-up", "filled": true, "color": "#0000ff", "opacity": 1, "size": 160, "clip": true},
 "encoding": {"x": {"field": "depth", "type": "quantitative", "axis": null}, "y": {"field": "disorder", "type": "quantitative", "axis": null}}}
],
"resolve": {"axis": {"x": "independent", "y": "independent"}}
}
],
"spacing": 0,
"bounds": "flush",
"resolve": {"scale": {"color": "independent"}, "legend": {"color": "independent"}},
"config": {
  "view": {"stroke": null},
  "axis": {"grid": false, "domainColor": "#000000", "domainWidth": 1.5, "tickColor": "#000000", "tickWidth": 1.5,
           "labelFont": "Open Sans", "labelFontWeight": 600, "labelFontSize": 22, "labelColor": "#000000", "labelPadding": 10,
           "titleFont": "Open Sans", "titleFontWeight": 600, "titleFontSize": 23, "titleColor": "#000000", "titlePadding": 12},
  "legend": {"labelFont": "Open Sans", "labelFontWeight": 600, "labelFontSize": 21}
}
}
